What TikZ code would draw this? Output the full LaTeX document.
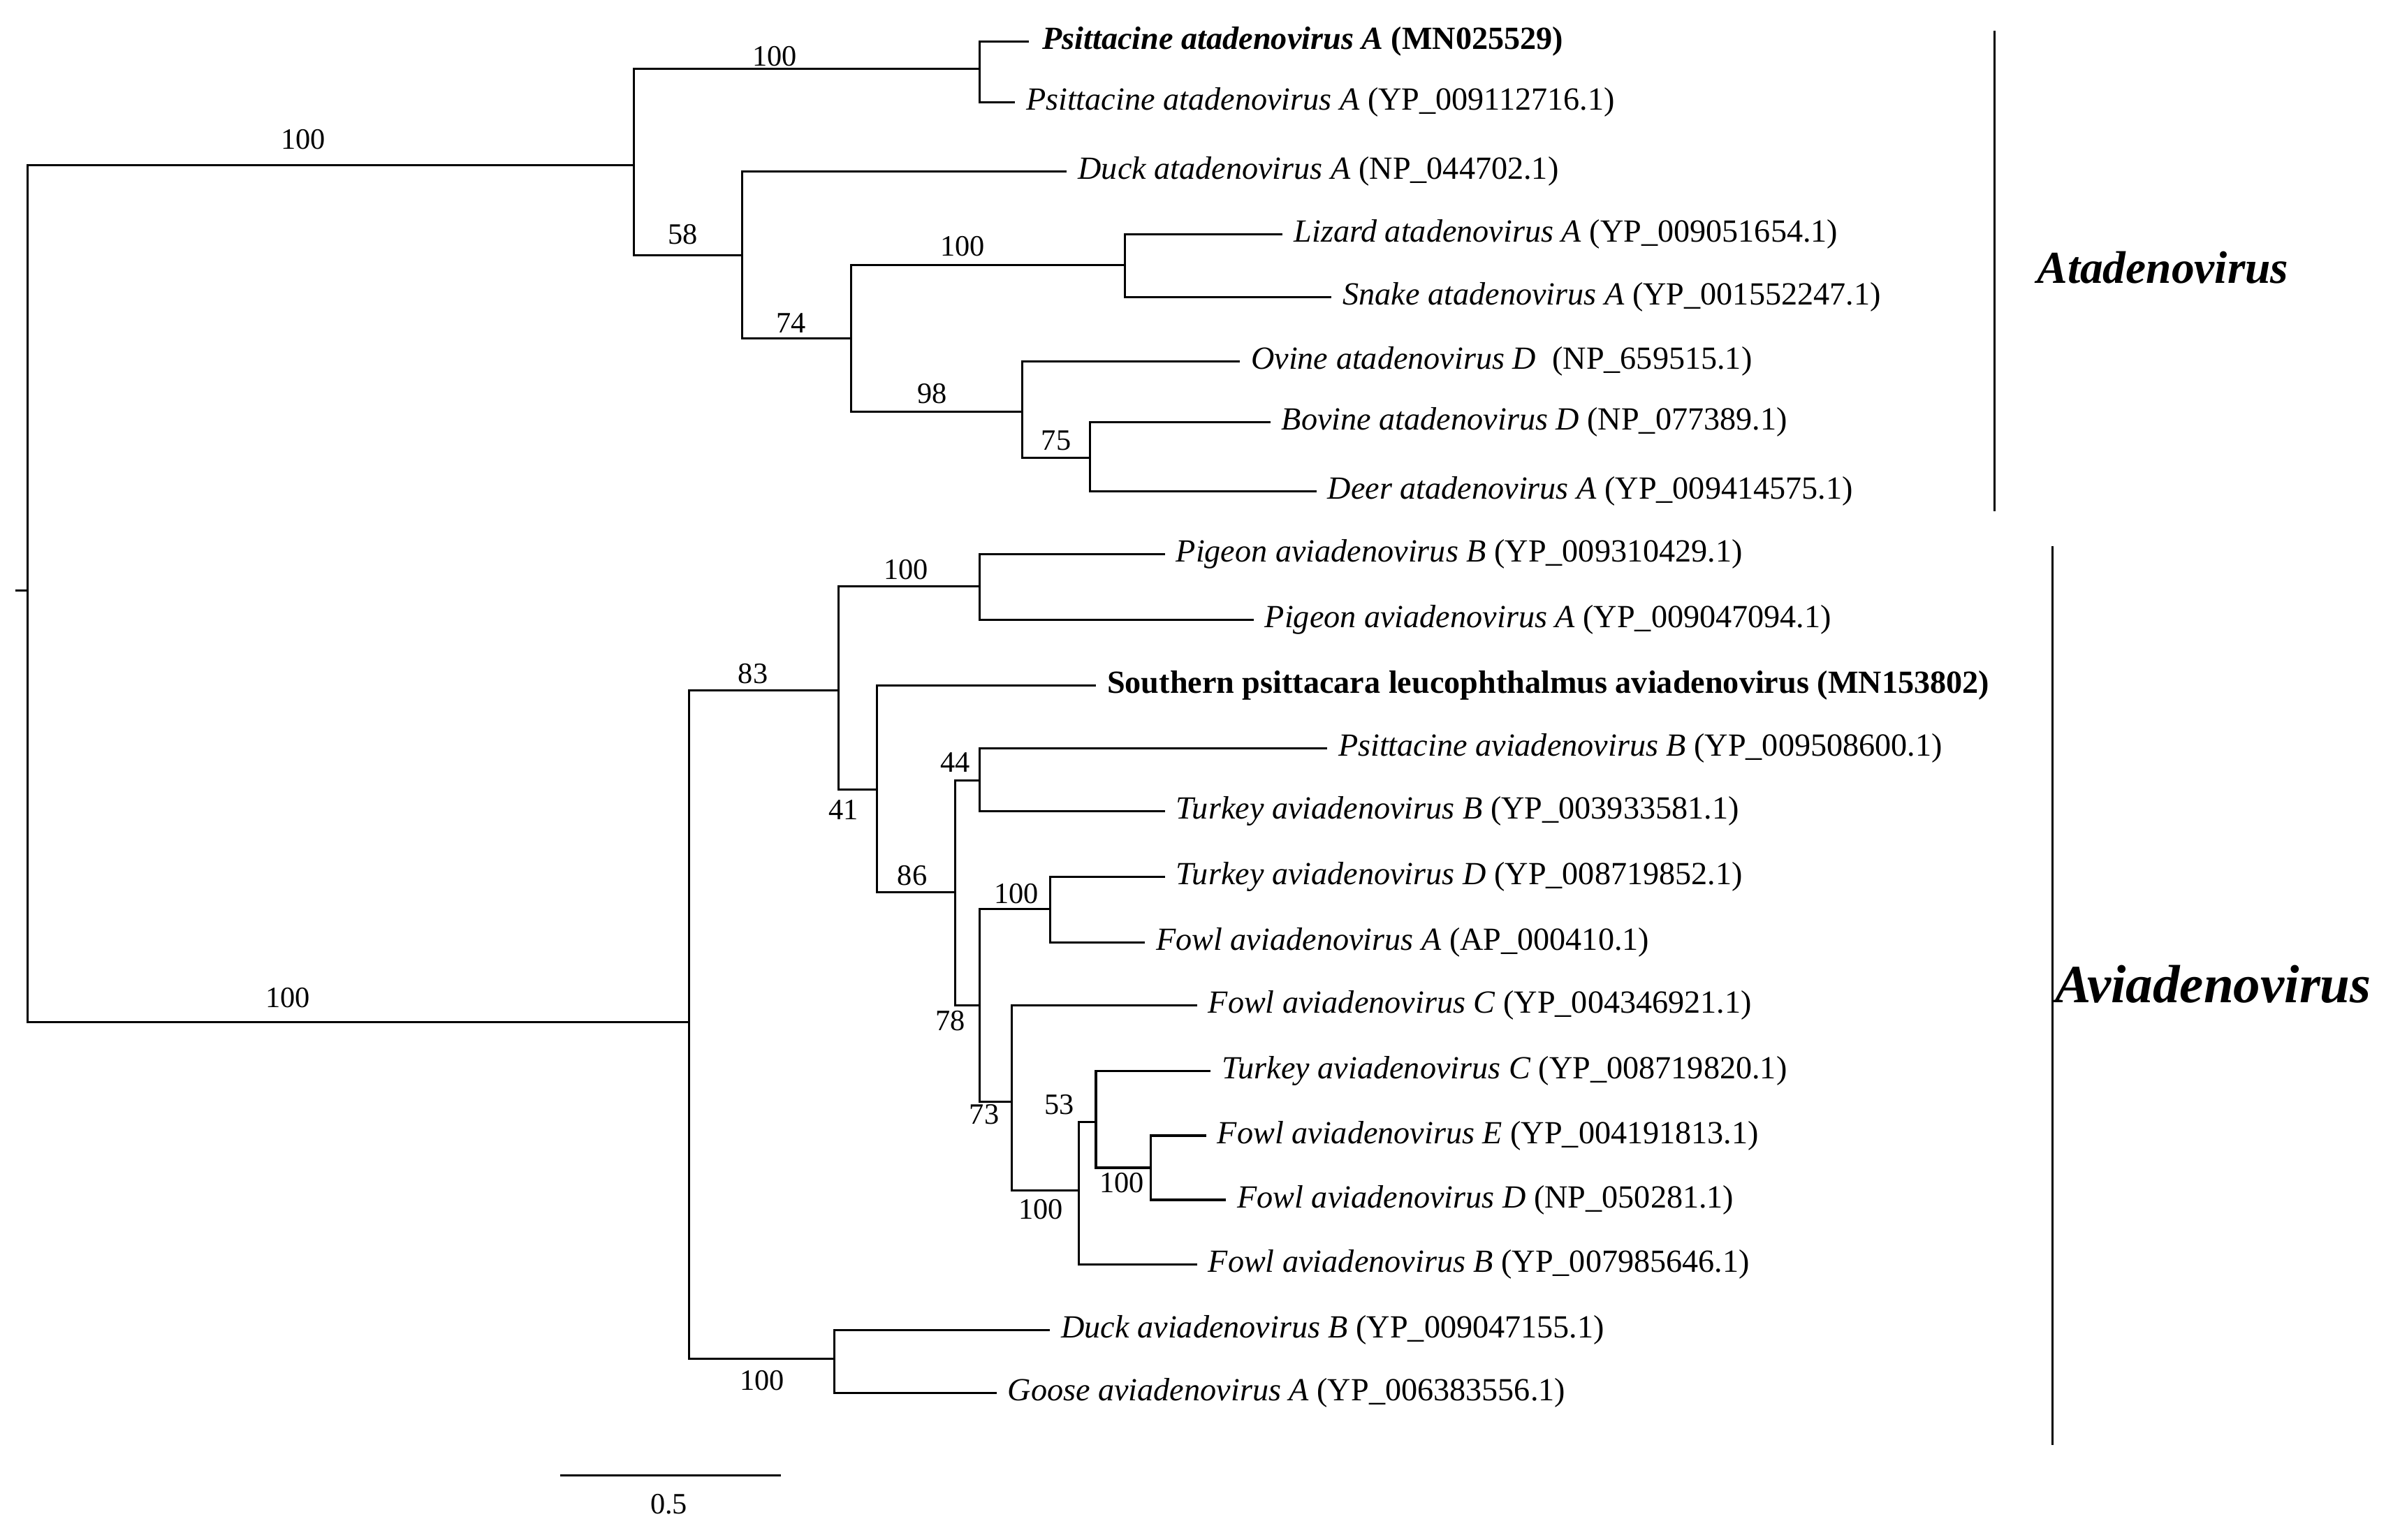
\documentclass[tikz,border=0pt]{standalone}
\usepackage{fontspec}
\setmainfont{Liberation Serif}
\begin{document}
\begin{tikzpicture}[x=0.02cm,y=-0.02cm,
  br/.style={line width=0.8pt},
  leaf/.style={anchor=west,inner sep=0pt,font=\fontsize{12}{14}\selectfont},
  bs/.style={inner sep=0pt,font=\fontsize{11}{13}\selectfont},
  clade/.style={inner sep=0pt,font=\bfseries\itshape}]
\useasboundingbox (0,0) rectangle (1568,1006);
% internal nodes
\coordinate (rt) at (10,386);
\coordinate (R) at (18,386);
\coordinate (A) at (414,108);
\coordinate (A1) at (640,45);
\coordinate (A2) at (485,167);
\coordinate (A3) at (556,221);
\coordinate (A4) at (735,173);
\coordinate (A5) at (668,269);
\coordinate (A6) at (712,299);
\coordinate (B) at (450,668);
\coordinate (B1) at (548,451);
\coordinate (B2) at (640,383);
\coordinate (B3) at (573,516);
\coordinate (B4) at (624,583);
\coordinate (B5) at (640,510);
\coordinate (B6) at (640,657);
\coordinate (B7) at (686,594);
\coordinate (B8) at (661,720);
\coordinate (B9) at (545,888);
\coordinate (B10) at (705,778);
\coordinate (B11) at (716,733);
\coordinate (B12) at (752,763);
% leaf tips
\coordinate (l1) at (672,27);
\coordinate (l2) at (663,67);
\coordinate (l3) at (697,112);
\coordinate (l4) at (838,153);
\coordinate (l5) at (870,194);
\coordinate (l6) at (810,236);
\coordinate (l7) at (830,276);
\coordinate (l8) at (860,321);
\coordinate (l9) at (761,362);
\coordinate (l10) at (819,405);
\coordinate (l11) at (716,448);
\coordinate (l12) at (867,489);
\coordinate (l13) at (761,530);
\coordinate (l14) at (761,573);
\coordinate (l15) at (748,616);
\coordinate (l16) at (782,657);
\coordinate (l17) at (791,700);
\coordinate (l18) at (788,742);
\coordinate (l19) at (801,784);
\coordinate (l20) at (782,826);
\coordinate (l21) at (686,869);
\coordinate (l22) at (651,910);
% branches
\draw[br] (rt) -- (R);
\draw[br] (R) |- (A); \draw[br] (R) |- (B);
\draw[br] (A) |- (A1); \draw[br] (A) |- (A2);
\draw[br] (A1) |- (l1); \draw[br] (A1) |- (l2);
\draw[br] (A2) |- (l3); \draw[br] (A2) |- (A3);
\draw[br] (A3) |- (A4); \draw[br] (A3) |- (A5);
\draw[br] (A4) |- (l4); \draw[br] (A4) |- (l5);
\draw[br] (A5) |- (l6); \draw[br] (A5) |- (A6);
\draw[br] (A6) |- (l7); \draw[br] (A6) |- (l8);
\draw[br] (B) |- (B1); \draw[br] (B) |- (B9);
\draw[br] (B1) |- (B2); \draw[br] (B1) |- (B3);
\draw[br] (B2) |- (l9); \draw[br] (B2) |- (l10);
\draw[br] (B3) |- (l11); \draw[br] (B3) |- (B4);
\draw[br] (B4) |- (B5); \draw[br] (B4) |- (B6);
\draw[br] (B5) |- (l12); \draw[br] (B5) |- (l13);
\draw[br] (B6) |- (B7); \draw[br] (B6) |- (B8);
\draw[br] (B7) |- (l14); \draw[br] (B7) |- (l15);
\draw[br] (B8) |- (l16); \draw[br] (B8) |- (B10);
\draw[br] (B10) |- (B11); \draw[br] (B10) |- (l20);
\draw[br] (B11) |- (l17); \draw[br] (B11) |- (B12);
\draw[br] (B12) |- (l18); \draw[br] (B12) |- (l19);
\draw[br] (B9) |- (l21); \draw[br] (B9) |- (l22);
% leaf labels
\node[leaf] (t1) at ([xshift=5]l1) {\textbf{\textit{Psittacine atadenovirus A} (MN025529)}};
\node[leaf] (t2) at ([xshift=4]l2) {\textit{Psittacine atadenovirus A} (YP\_009112716.1)};
\node[leaf] (t3) at ([xshift=4]l3) {\textit{Duck atadenovirus A} (NP\_044702.1)};
\node[leaf] (t4) at ([xshift=4]l4) {\textit{Lizard atadenovirus A} (YP\_009051654.1)};
\node[leaf] (t5) at ([xshift=4]l5) {\textit{Snake atadenovirus A} (YP\_001552247.1)};
\node[leaf] (t6) at ([xshift=4]l6) {\textit{Ovine atadenovirus D}\ \ (NP\_659515.1)};
\node[leaf] (t7) at ([xshift=4]l7) {\textit{Bovine atadenovirus D} (NP\_077389.1)};
\node[leaf] (t8) at ([xshift=4]l8) {\textit{Deer atadenovirus A} (YP\_009414575.1)};
\node[leaf] (t9) at ([xshift=4]l9) {\textit{Pigeon aviadenovirus B} (YP\_009310429.1)};
\node[leaf] (t10) at ([xshift=4]l10) {\textit{Pigeon aviadenovirus A} (YP\_009047094.1)};
\node[leaf] (t11) at ([xshift=4]l11) {\textbf{Southern psittacara leucophthalmus aviadenovirus (MN153802)}};
\node[leaf] (t12) at ([xshift=4]l12) {\textit{Psittacine aviadenovirus B} (YP\_009508600.1)};
\node[leaf] (t13) at ([xshift=4]l13) {\textit{Turkey aviadenovirus B} (YP\_003933581.1)};
\node[leaf] (t14) at ([xshift=4]l14) {\textit{Turkey aviadenovirus D} (YP\_008719852.1)};
\node[leaf] (t15) at ([xshift=4]l15) {\textit{Fowl aviadenovirus A} (AP\_000410.1)};
\node[leaf] (t16) at ([xshift=4]l16) {\textit{Fowl aviadenovirus C} (YP\_004346921.1)};
\node[leaf] (t17) at ([xshift=4]l17) {\textit{Turkey aviadenovirus C} (YP\_008719820.1)};
\node[leaf] (t18) at ([xshift=4]l18) {\textit{Fowl aviadenovirus E} (YP\_004191813.1)};
\node[leaf] (t19) at ([xshift=4]l19) {\textit{Fowl aviadenovirus D} (NP\_050281.1)};
\node[leaf] (t20) at ([xshift=4]l20) {\textit{Fowl aviadenovirus B} (YP\_007985646.1)};
\node[leaf] (t21) at ([xshift=4]l21) {\textit{Duck aviadenovirus B} (YP\_009047155.1)};
\node[leaf] (t22) at ([xshift=4]l22) {\textit{Goose aviadenovirus A} (YP\_006383556.1)};
% bootstrap values
\node[bs] (b1) at (198,91) {100};
\node[bs] (b2) at (506,37) {100};
\node[bs] (b3) at (446,153) {58};
\node[bs] (b4) at (517,211) {74};
\node[bs] (b5) at (629,161) {100};
\node[bs] (b6) at (609,257) {98};
\node[bs] (b7) at (690,288) {75};
\node[bs] (b8) at (188,652) {100};
\node[bs] (b9) at (492,440) {83};
\node[bs] (b10) at (592,372) {100};
\node[bs] (b11) at (551,529) {41};
\node[bs] (b12) at (596,572) {86};
\node[bs] (b13) at (624,498) {44};
\node[bs] (b14) at (664,584) {100};
\node[bs] (b15) at (621,667) {78};
\node[bs] (b16) at (643,728) {73};
\node[bs] (b17) at (692,722) {53};
\node[bs] (b18) at (680,790) {100};
\node[bs] (b19) at (733,773) {100};
\node[bs] (b20) at (498,902) {100};
% scale bar
\coordinate (s1) at (366,964);
\coordinate (s2) at (510,964);
\draw[br] (s1) -- (s2);
\node[bs] (sl) at (437,983) {0.5};
% clade bars
\coordinate (c1a) at (1303,20);
\coordinate (c1b) at (1303,334);
\coordinate (c2a) at (1341,357);
\coordinate (c2b) at (1341,944);
\draw[br] (c1a) -- (c1b);
\draw[br] (c2a) -- (c2b);
\node[clade,font=\fontsize{17}{19}\selectfont\bfseries\itshape] (ata) at (1413,175) {Atadenovirus};
\node[clade,font=\fontsize{20}{22}\selectfont\bfseries\itshape] (avi) at (1446,643) {Aviadenovirus};
\end{tikzpicture}
\end{document}
